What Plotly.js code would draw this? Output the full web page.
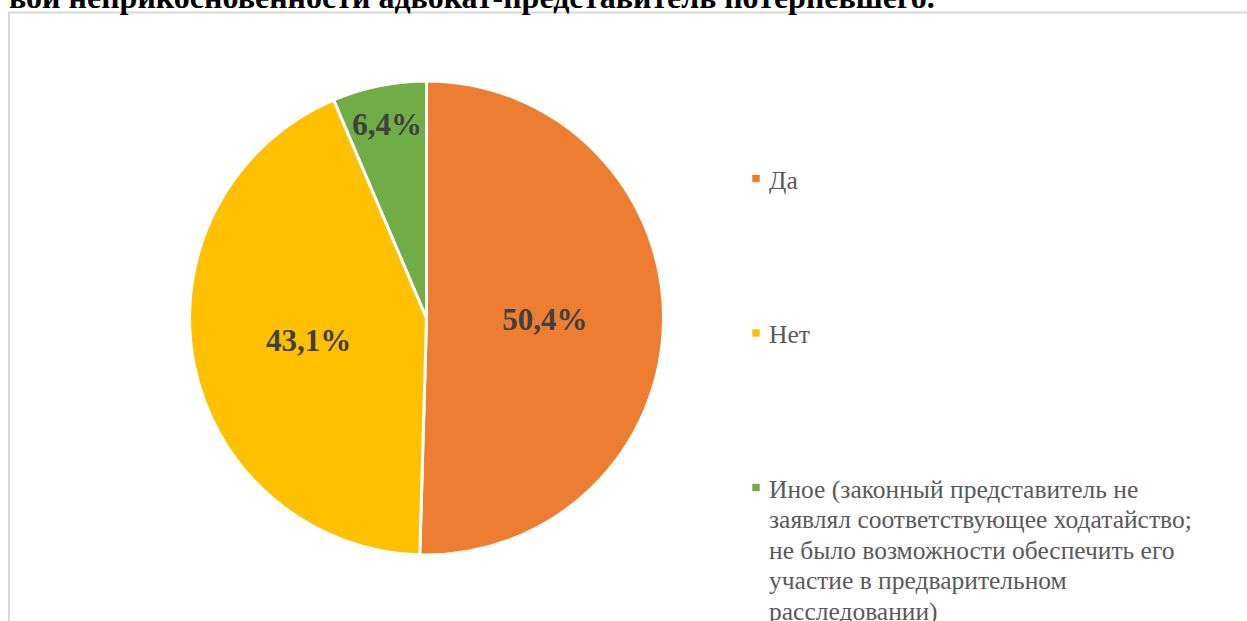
<!DOCTYPE html>
<html>
<head>
<meta charset="utf-8">
<script src="https://cdn.plot.ly/plotly-3.0.1.min.js"></script>
<style>html,body{margin:0;padding:0;background:#fff;}#chart{width:1247px;height:621px;}</style>
</head>
<body>
<div id="chart"></div>
<script>
const categories = ['Да', 'Нет', 'Иное (законный представитель не заявлял соответствующее ходатайство; не было возможности обеспечить его участие в предварительном расследовании)'];
const legendLines = [
  ['Да'],
  ['Нет'],
  ['Иное (законный представитель не', 'заявлял соответствующее ходатайство;', 'не было возможности обеспечить его', 'участие в предварительном', 'расследовании)']
];
const values = [50.4, 43.1, 6.4];
const colors = ['#ED7D31', '#FFC000', '#70AD47'];
const titleText = 'вой неприкосновенности адвокат-представитель потерпевшего.';

const SERIF = 'Liberation Serif';
const W = 1247, H = 621;
const cx = 426.5, cy = 318, R = 237;

const trace = {
  type: 'pie',
  labels: categories,
  values: values,
  sort: false,
  direction: 'clockwise',
  rotation: 0,
  marker: {colors: colors, line: {color: '#FFFFFF', width: 3}},
  texttemplate: '%{value:.1f}%',
  textposition: 'inside',
  insidetextorientation: 'horizontal',
  textfont: {family: SERIF, size: 31, color: '#404040', weight: 'bold'},
  hoverinfo: 'label+value',
  domain: {x: [(cx - R) / W, (cx + R) / W], y: [(H - cy - R) / H, (H - cy + R) / H]},
  showlegend: false
};

const py = v => 1 - v / H;
const titleSize = 32;
const annotations = [{
  text: titleText,
  xref: 'paper', yref: 'paper', x: 7 / W, y: py(8 - 0.34 * titleSize),
  xanchor: 'left', yanchor: 'middle', showarrow: false,
  font: {family: SERIF, size: titleSize, color: '#000000', weight: 'bold'}
}];
const shapes = [{
  type: 'rect', xref: 'paper', yref: 'paper',
  x0: 9 / W, x1: 1.01, y0: -0.01, y1: py(12.5),
  line: {color: '#D9D9D9', width: 2}, fillcolor: 'rgba(0,0,0,0)', layer: 'below'
}];
const legSize = 25.5;
const firstBase = [189, 343.5, 498];
const lineGap = 30.5;
legendLines.forEach((lines, i) => {
  lines.forEach((ln, j) => {
    const base = firstBase[i] + j * lineGap;
    annotations.push({
      text: ln, xref: 'paper', yref: 'paper', x: 767 / W, y: py(base - 0.34 * legSize),
      xanchor: 'left', yanchor: 'middle', showarrow: false,
      font: {family: SERIF, size: legSize, color: '#595959'}
    });
  });
  const my = firstBase[i] - 10.5;
  shapes.push({
    type: 'rect', xref: 'paper', yref: 'paper',
    x0: 752.3 / W, x1: 759.7 / W, y0: py(my + 3.7), y1: py(my - 3.7),
    fillcolor: colors[i], line: {width: 0}
  });
});

const layout = {
  width: W, height: H,
  margin: {l: 0, r: 0, t: 0, b: 0},
  paper_bgcolor: '#FFFFFF',
  font: {family: SERIF},
  separators: ', ',
  showlegend: false,
  annotations: annotations,
  shapes: shapes
};

Plotly.newPlot('chart', [trace], layout, {displayModeBar: false, staticPlot: true});
</script>
</body>
</html>
